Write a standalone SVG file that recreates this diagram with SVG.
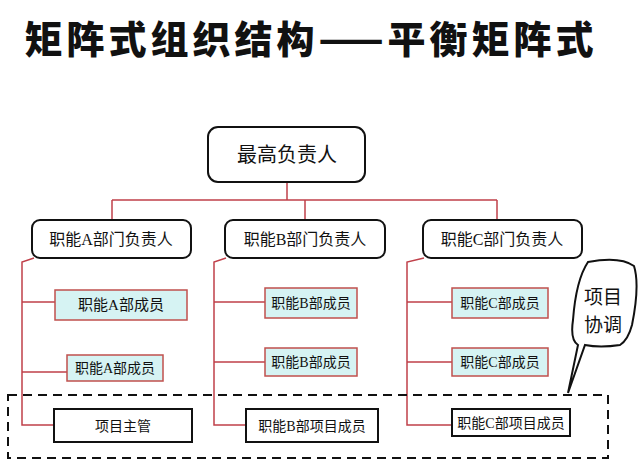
<svg xmlns="http://www.w3.org/2000/svg" width="640" height="463" viewBox="0 0 640 463">
<style>
text{font-family:"Liberation Serif","Noto Sans CJK SC",serif;text-anchor:middle;fill:#111}
.h{fill:#fff;stroke:#111;stroke-width:2}
.m{fill:#d6f3f3;stroke:#c0504d;stroke-width:1.5}
.p{fill:#fff;stroke:#111;stroke-width:2}
.c{fill:none;stroke:#c0404a;stroke-width:1.5}
</style>
<rect width="640" height="463" fill="#fff"/>
<text x="311" y="53" style="font-family:'Noto Sans CJK SC',sans-serif;font-weight:900;font-size:38px;letter-spacing:4px">矩阵式组织结构——平衡矩阵式</text>
<g id="connectors">
<path class="c" d="M287 182V200M112 200H497M112 200V220M305 200V220M497 200V220"/>
<path class="c" d="M34 258L22 262V425H54M22 302H55M22 372H67"/>
<path class="c" d="M226 258L214 262V425H246M214 302H265M214 362H265"/>
<path class="c" d="M424 258L407 262V425H452M407 302H452M407 362H452"/>
</g>
<g id="top"><rect class="h" x="208" y="127" width="157" height="55" rx="10"/><text x="287" y="162" font-size="20">最高负责人</text></g>
<g id="headA"><rect class="h" x="32" y="220" width="159" height="38" rx="8"/><text x="111" y="245" font-size="16">职能A部门负责人</text></g>
<g id="headB"><rect class="h" x="225" y="220" width="160" height="38" rx="8"/><text x="305" y="245" font-size="16">职能B部门负责人</text></g>
<g id="headC"><rect class="h" x="423" y="220" width="159" height="38" rx="8"/><text x="502" y="245" font-size="16">职能C部门负责人</text></g>
<g id="a1"><rect class="m" x="55" y="290" width="132" height="30"/><text x="121" y="310" font-size="15">职能A部成员</text></g>
<g id="a2"><rect class="m" x="67" y="355" width="96" height="26"/><text x="115" y="373" font-size="14">职能A部成员</text></g>
<g id="a3"><rect class="p" x="54" y="409" width="138" height="33"/><text x="123" y="431" font-size="14">项目主管</text></g>
<g id="b1"><rect class="m" x="265" y="288" width="92" height="30"/><text x="311" y="308" font-size="14">职能B部成员</text></g>
<g id="b2"><rect class="m" x="265" y="348" width="92" height="28"/><text x="311" y="367" font-size="14">职能B部成员</text></g>
<g id="b3"><rect class="p" x="246" y="409" width="132" height="33"/><text x="312" y="431" font-size="14">职能B部项目成员</text></g>
<g id="c1"><rect class="m" x="452" y="288" width="96" height="30"/><text x="500" y="308" font-size="14">职能C部成员</text></g>
<g id="c2"><rect class="m" x="452" y="348" width="96" height="28"/><text x="500" y="367" font-size="14">职能C部成员</text></g>
<g id="c3"><rect class="p" x="452" y="409" width="118" height="27"/><text x="511" y="428" font-size="14">职能C部项目成员</text></g>
<g id="team"><rect x="8" y="395" width="600" height="63" fill="none" stroke="#111" stroke-width="2" stroke-dasharray="9,6"/></g>
<g id="bubble"><path d="M588 262Q620 256 634 266Q640 285 632 325Q628 340 620 345Q600 348 585 345L568 393L578 345Q570 340 573 320Q576 280 588 262Z" fill="#fff" stroke="#111" stroke-width="2"/>
<text x="603" y="304" font-size="19" style="font-family:'Noto Sans CJK SC',sans-serif">项目</text>
<text x="603" y="332" font-size="19" style="font-family:'Noto Sans CJK SC',sans-serif">协调</text></g>
</svg>
